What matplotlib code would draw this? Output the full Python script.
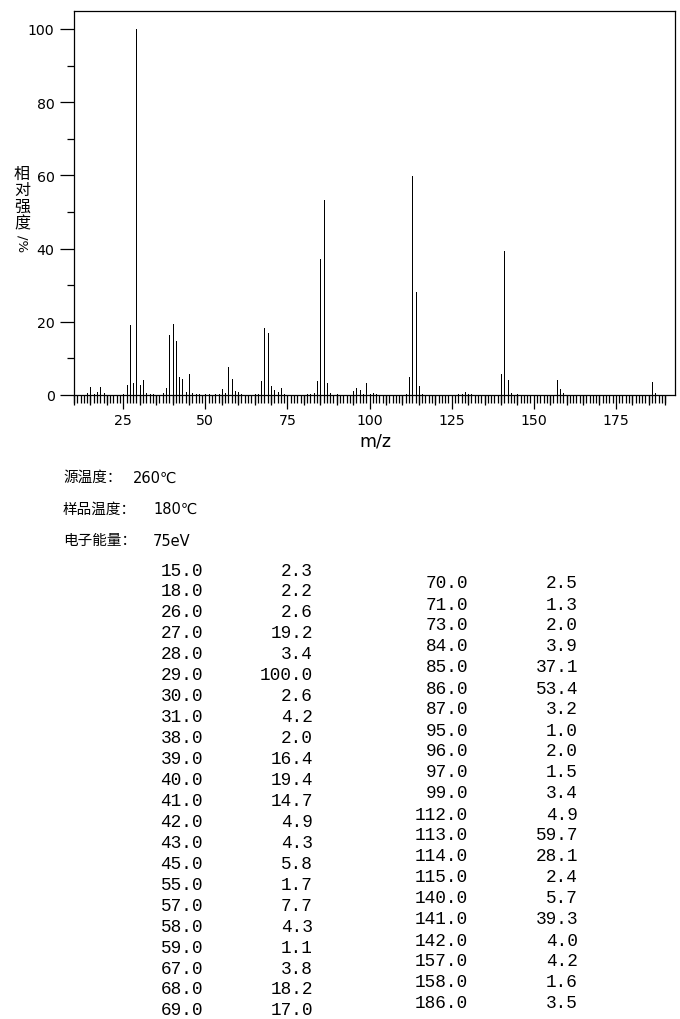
import matplotlib
matplotlib.use("Agg")
import matplotlib.pyplot as plt
from matplotlib.ticker import FixedLocator, MultipleLocator

plt.rcParams['font.family'] = ['DejaVu Sans', 'Noto Sans CJK SC']

# peaks listed in the table (m/z, relative intensity %)
mzListed = [15, 18, 26, 27, 28, 29, 30, 31, 38, 39, 40, 41, 42, 43, 45, 55, 57, 58, 59, 67, 68, 69,
            70, 71, 73, 84, 85, 86, 87, 95, 96, 97, 99, 112, 113, 114, 115, 140, 141, 142, 157, 158, 186]
intListed = [2.3, 2.2, 2.6, 19.2, 3.4, 100.0, 2.6, 4.2, 2.0, 16.4, 19.4, 14.7, 4.9, 4.3, 5.8, 1.7, 7.7, 4.3, 1.1, 3.8, 18.2, 17.0,
             2.5, 1.3, 2.0, 3.9, 37.1, 53.4, 3.2, 1.0, 2.0, 1.5, 3.4, 4.9, 59.7, 28.1, 2.4, 5.7, 39.3, 4.0, 4.2, 1.6, 3.5]

# small peaks only seen on the plot (values estimated)
mzSmall = [14, 16, 17, 19, 25, 32, 33, 34, 37, 44, 46, 47, 48, 50, 51, 53, 54, 56, 60, 61, 65, 66,
           72, 74, 81, 82, 83, 88, 90, 98, 100, 101, 102, 111, 116, 127, 128, 129, 130, 131,
           143, 145, 159, 187]
intSmall = [0.6, 0.4, 0.7, 0.5, 0.2, 0.6, 0.3, 0.3, 0.6, 0.8, 0.5, 0.4, 0.4, 0.4, 0.4, 0.4, 0.3, 0.5, 0.9, 0.3, 0.4, 0.4,
            0.9, 0.4, 0.4, 0.4, 0.6, 0.5, 0.3, 0.4, 0.4, 0.5, 0.4, 0.4, 0.4, 0.3, 0.4, 0.8, 0.4, 0.4,
            0.6, 0.4, 0.6, 0.6]

infoLabels = ["源温度：", "样品温度：", "电子能量："]
infoValues = ["260℃", "180℃", "75eV"]
yLabelChars = ["相", "对", "强", "度"]

W, H = 680, 1020
fig = plt.figure(figsize=(W / 100, H / 100), dpi=100)

# axes box in pixels: left 74, right 675, top 12, baseline 396
ax = fig.add_axes([74 / W, (H - 396) / H, (675 - 74) / W, (396 - 12) / H])
ax.vlines(mzSmall + mzListed, 0, intSmall + intListed, color='black', linewidth=0.72, antialiased=False)
ax.set_xlim(10, 193)
ax.set_ylim(0, 104.9)

for s in ax.spines.values():
    s.set_linewidth(0.9)
    s.set_color('black')

# x ticks: labelled every 25, small every 1
ax.xaxis.set_major_locator(FixedLocator([25, 50, 75, 100, 125, 150, 175]))
ax.xaxis.set_minor_locator(FixedLocator(list(range(10, 191))))
ax.tick_params(axis='x', which='major', length=10, width=0.9, labelsize=10.2, pad=3)
ax.tick_params(axis='x', which='minor', length=6, width=0.9)

# medium ticks every 5 on a twin axis
ax2 = ax.twiny()
ax2.set_xlim(ax.get_xlim())
ax2.xaxis.set_ticks_position('bottom')
ax2.xaxis.set_major_locator(FixedLocator([t for t in range(10, 191, 5) if t % 25 != 0]))
ax2.tick_params(axis='x', which='major', length=7.5, width=0.9, labelbottom=False, labeltop=False, top=False)
for s in ax2.spines.values():
    s.set_visible(False)

ax.yaxis.set_major_locator(MultipleLocator(20))
ax.yaxis.set_minor_locator(MultipleLocator(10))
ax.tick_params(axis='y', which='major', length=10, width=0.9, labelsize=10.2, pad=4)
ax.tick_params(axis='y', which='minor', length=5, width=0.9)

fig.text(375 / W, 1 - 442 / H, "m/z", ha='center', va='center', fontsize=12.5)

# vertical y label, characters stacked in one text
fig.text(22 / W, 1 - 199 / H, "\n".join(yLabelChars), ha='center', va='center', fontsize=11.5,
         linespacing=0.95, family=['Noto Sans CJK SC', 'DejaVu Sans'])
fig.text(22 / W, 1 - 244 / H, "/%", ha='center', va='center', fontsize=9.5, rotation=-90)

# instrument info
valueX = [133, 153, 153]
for i in range(len(infoLabels)):
    y = 1 - (478 + i * 31.5) / H
    fig.text(63 / W, y, infoLabels[i], ha='left', va='center', fontsize=10.5,
             family=['Noto Sans CJK SC', 'DejaVu Sans'])
    fig.text(valueX[i] / W, y, infoValues[i], ha='left', va='center', fontsize=10.5,
             family=['DejaVu Sans', 'Noto Sans CJK SC'])

# peak table, two columns
nLeft = 22
for i in range(len(mzListed)):
    if i < nLeft:
        y = 571 + i * 20.95
        xm, xi = 203, 313
    else:
        y = 584 + (i - nLeft) * 21.0
        xm, xi = 468, 578
    fig.text(xm / W, 1 - y / H, "%.1f" % mzListed[i], ha='right', va='center',
             fontsize=12.8, family='Liberation Mono')
    fig.text(xi / W, 1 - y / H, "%.1f" % intListed[i], ha='right', va='center',
             fontsize=12.8, family='Liberation Mono')

fig.savefig("out.png", dpi=100)
